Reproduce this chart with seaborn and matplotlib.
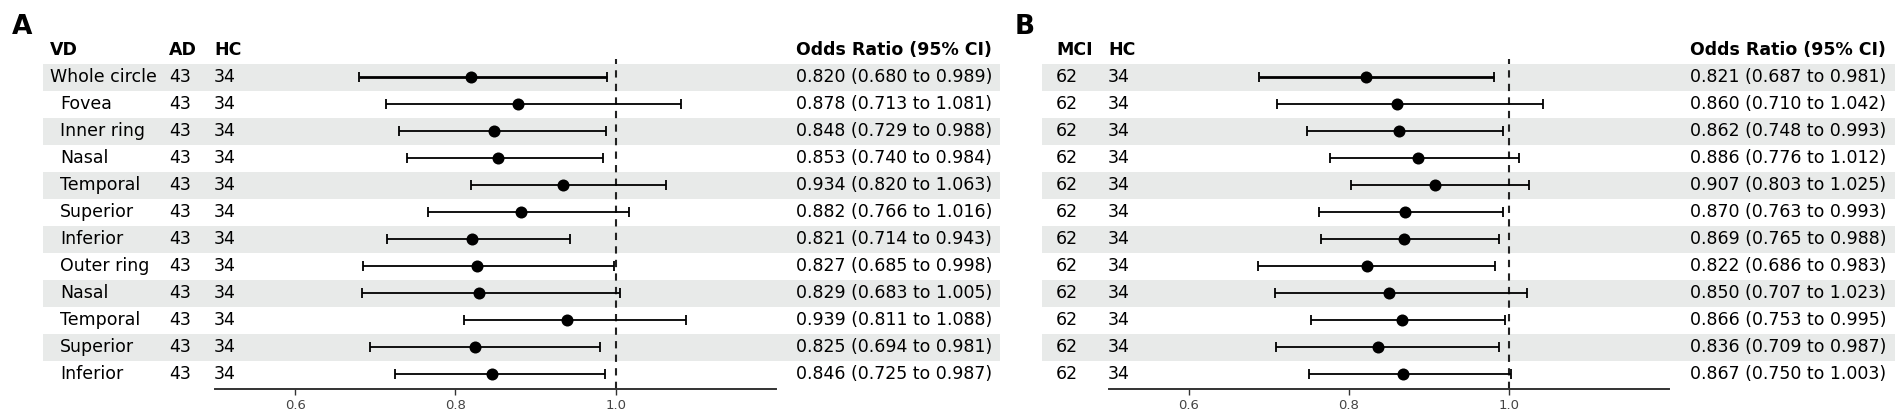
import numpy as np
import pandas as pd
import matplotlib
matplotlib.use("Agg")
import matplotlib.pyplot as plt
import seaborn as sns

# ---- data ----
regions = ["Whole circle", "Fovea", "Inner ring", "Nasal", "Temporal", "Superior",
           "Inferior", "Outer ring", "Nasal", "Temporal", "Superior", "Inferior"]
indent = [False] + [True] * 11

n_ad, n_hc_a = 43, 34
or_a = [0.820, 0.878, 0.848, 0.853, 0.934, 0.882, 0.821, 0.827, 0.829, 0.939, 0.825, 0.846]
lo_a = [0.680, 0.713, 0.729, 0.740, 0.820, 0.766, 0.714, 0.685, 0.683, 0.811, 0.694, 0.725]
hi_a = [0.989, 1.081, 0.988, 0.984, 1.063, 1.016, 0.943, 0.998, 1.005, 1.088, 0.981, 0.987]

n_mci, n_hc_b = 62, 34
or_b = [0.821, 0.860, 0.862, 0.886, 0.907, 0.870, 0.869, 0.822, 0.850, 0.866, 0.836, 0.867]
lo_b = [0.687, 0.710, 0.748, 0.776, 0.803, 0.763, 0.765, 0.686, 0.707, 0.753, 0.709, 0.750]
hi_b = [0.981, 1.042, 0.993, 1.012, 1.025, 0.993, 0.988, 0.983, 1.023, 0.995, 0.987, 1.003]

xticks = [0.6, 0.8, 1.0]

sns.set_theme(style="white")
plt.rcParams['font.family'] = ['DejaVu Sans']
plt.rcParams['text.color'] = 'black'

W, H = 1904, 417
fig = plt.figure(figsize=(W / 100, H / 100), dpi=100)

BAND = '#e8eae9'
FS = 12.5
Y_TOP, Y_BOT = 59, 389          # pixel rows of the plotting strip
ROW0, ROWH = 77, 27             # centre of first row, row height
ylim = ((Y_BOT - ROW0) / ROWH, -(ROW0 - Y_TOP) / ROWH)


def px_axes(x0, x1):
    '''axes placed in pixel coordinates of the figure'''
    return fig.add_axes([x0 / W, 1 - Y_BOT / H, (x1 - x0) / W, (Y_BOT - Y_TOP) / H])


def draw_panel(letter, letter_x, band_x, plot_x, cols, or_vals, lo, hi, or_x):
    # table / background axis, x in pixels
    tab = px_axes(*band_x)
    tab.set_xlim(*band_x)
    tab.set_ylim(*ylim)
    tab.axis('off')
    for i in range(0, len(or_vals), 2):
        tab.axhspan(i - 0.5, i + 0.5, color=BAND, lw=0, zorder=0)
    # header
    for name, x, _ in cols:
        tab.text(x, -1, name, fontsize=FS, fontweight='bold', va='center', clip_on=False)
    tab.text(or_x, -1, 'Odds Ratio (95% CI)', fontsize=FS, fontweight='bold',
             va='center', clip_on=False)
    # rows
    for i in range(len(or_vals)):
        for name, x, vals in cols:
            v = vals[i]
            if isinstance(v, tuple):
                v, shift = v
                x = x + shift
            tab.text(x, i, str(v), fontsize=FS, va='center')
        tab.text(or_x, i, f'{or_vals[i]:.3f} ({lo[i]:.3f} to {hi[i]:.3f})',
                 fontsize=FS, va='center')
    fig.text(letter_x / W, 1 - 27 / H, letter, fontsize=19, fontweight='bold',
             va='center', ha='left')

    # forest axis
    ax = px_axes(*plot_x)
    ax.patch.set_alpha(0)
    df = pd.DataFrame({'or': or_vals, 'lo': lo, 'hi': hi, 'row': np.arange(len(or_vals))})
    for i, r in df.iterrows():
        ax.errorbar(r['or'], r['row'], xerr=[[r['or'] - r['lo']], [r['hi'] - r['or']]],
                    fmt='none', ecolor='black', elinewidth=2.0 if i == 0 else 1.3,
                    capsize=3.5, capthick=1.3, zorder=2)
    sns.scatterplot(data=df, x='or', y='row', color='black', s=75, edgecolor='black',
                    linewidth=0, ax=ax, zorder=3, legend=False)
    ax.axvline(1.0, color='#222222', ls=(0, (3.5, 3)), lw=1.5, zorder=1)
    ax.set_xlim(0.5, 1.2)
    ax.set_ylim(*ylim)
    ax.set_xticks(xticks)
    ax.set_xticklabels([f'{t:.1f}' for t in xticks], fontsize=9.5, color='#444444')
    ax.set_yticks([])
    ax.set_xlabel('')
    ax.set_ylabel('')
    for s in ['top', 'right', 'left']:
        ax.spines[s].set_visible(False)
    ax.spines['bottom'].set_color('#333333')
    ax.spines['bottom'].set_linewidth(1.4)
    ax.tick_params(axis='x', bottom=True, length=4, width=1, color='#333333', pad=3)
    return ax


names_a = [(r, 10) if ind else r for r, ind in zip(regions, indent)]
draw_panel('A', 12, (43, 1000), (215, 776),
           [('VD', 50, names_a), ('AD', 169, [n_ad] * 12), ('HC', 214, [n_hc_a] * 12)],
           or_a, lo_a, hi_a, 796)
draw_panel('B', 1015, (1042, 1895), (1109, 1669),
           [('MCI', 1056, [n_mci] * 12), ('HC', 1108, [n_hc_b] * 12)],
           or_b, lo_b, hi_b, 1690)

fig.savefig('out.png', dpi=100)
